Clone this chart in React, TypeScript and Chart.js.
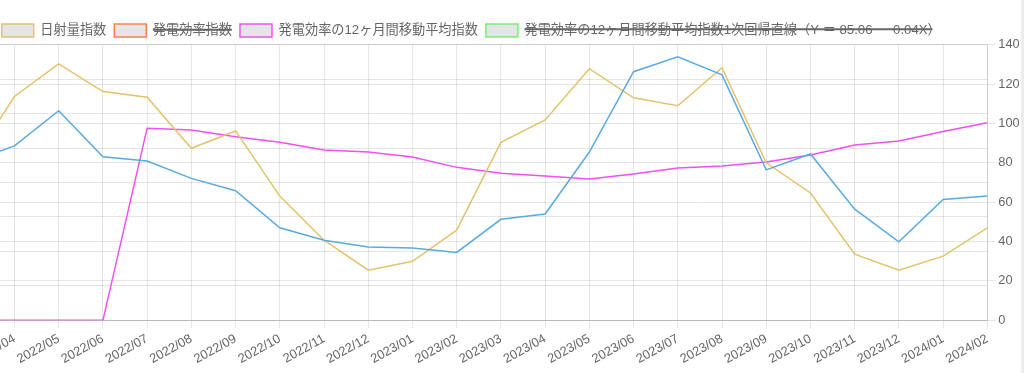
import { useEffect, useRef } from "react";
import { Chart, registerables } from "chart.js";

Chart.register(...registerables);

const months = [
  "2021/12", "2022/01", "2022/02", "2022/03", "2022/04", "2022/05", "2022/06",
  "2022/07", "2022/08", "2022/09", "2022/10", "2022/11", "2022/12", "2023/01",
  "2023/02", "2023/03", "2023/04", "2023/05", "2023/06", "2023/07", "2023/08",
  "2023/09", "2023/10", "2023/11", "2023/12", "2024/01", "2024/02",
];

// 発電量指数 (blue)
const generationIndex = [
  40, 50, 62, 80.5, 88.6, 106.5, 83.1, 80.9, 72.1, 65.8, 47, 40.7, 37.2, 36.7,
  34.5, 51.3, 54, 85.5, 126.3, 133.9, 124.7, 76.4, 84.5, 56.5, 39.9, 61.4, 63.1,
];

// 日射量指数 (yellow)
const irradianceIndex = [
  30, 35, 55, 79, 113.7, 130.3, 116.2, 113.3, 87.4, 96.2, 63.1, 40.7, 25.5, 30,
  45.8, 90.4, 101.8, 127.8, 113, 109, 128.3, 80, 64.7, 33.6, 25.5, 32.6, 47,
];

// 発電効率指数 (hidden in the legend)
const efficiencyIndex: number[] = [];

// 発電効率の12ヶ月間移動平均指数 (magenta)
const efficiencyMA12 = [
  0, 0, 0, 0, 0, 0, 0, 97.6, 96.7, 93.3, 90.4, 86.5, 85.5, 83, 77.7, 74.7, 73.3,
  71.8, 74.3, 77.4, 78.4, 80.4, 84, 89, 91.1, 95.9, 100.4,
];

// 1次回帰直線 (hidden in the legend)
const regressionLine: number[] = [];

const FONT = "'Liberation Sans', Arial, 'Noto Sans CJK JP', sans-serif";

const legendTrim = {
  id: "legendTrim",
  beforeUpdate(chart: any) {
    const lg = chart.legend;
    if (lg && !lg.__trimmed) {
      const orig = lg.fit.bind(lg);
      lg.fit = function () {
        orig();
        this.height = Math.max(0, this.height - 2.5);
      };
      lg.__trimmed = true;
    }
  },
};

export default function App() {
  const ref = useRef<HTMLCanvasElement | null>(null);

  useEffect(() => {
    if (!ref.current) return;
    const tickFont = { size: 12.8, family: FONT };
    const chart = new Chart(ref.current, {
      type: "line",
      data: {
        labels: months,
        datasets: [
          { label: "総発電量指数", data: generationIndex, borderColor: "#5aaae0", backgroundColor: "rgba(0,0,0,0.1)", yAxisID: "y1" },
          { label: "日射量指数", data: irradianceIndex, borderColor: "#e2c36c", backgroundColor: "rgba(0,0,0,0.1)", yAxisID: "y1" },
          { label: "発電効率指数", data: efficiencyIndex, borderColor: "#ff7f50", backgroundColor: "rgba(0,0,0,0.1)", yAxisID: "y1", hidden: true },
          { label: "発電効率の12ヶ月間移動平均指数", data: efficiencyMA12, borderColor: "#f050f0", backgroundColor: "rgba(0,0,0,0.1)", yAxisID: "y1" },
          { label: "発電効率の12ヶ月間移動平均指数1次回帰直線（Y ＝ 85.06 － 0.04X）", data: regressionLine, borderColor: "#77ee77", backgroundColor: "rgba(0,0,0,0.1)", yAxisID: "y1", hidden: true },
        ],
      },
      options: {
        animation: false,
        responsive: true,
        maintainAspectRatio: false,
        elements: { line: { borderWidth: 1.5, tension: 0 }, point: { radius: 0, hoverRadius: 0 } },
        plugins: {
          legend: {
            labels: { boxWidth: 32, boxHeight: 13, padding: 8, color: "#666", font: { size: 13.2, family: FONT } },
          },
          tooltip: { enabled: false },
        },
        scales: {
          x: { ticks: { color: "#666", font: tickFont } },
          y: { position: "left", min: 0, max: 160, ticks: { stepSize: 20, color: "#666", font: tickFont } },
          y1: { position: "right", min: 0, max: 140, ticks: { stepSize: 20, color: "#666", font: tickFont } },
        },
      },
      plugins: [legendTrim],
    });
    return () => chart.destroy();
  }, []);

  return (
    <>
      <div style={{ position: "absolute", left: -206.3, top: 16, width: 1228.7, height: 354 }}>
        <canvas ref={ref} />
      </div>
      <div style={{ position: "absolute", left: 1021, top: 0, width: 3, height: 373, background: "#ececec" }} />
    </>
  );
}
